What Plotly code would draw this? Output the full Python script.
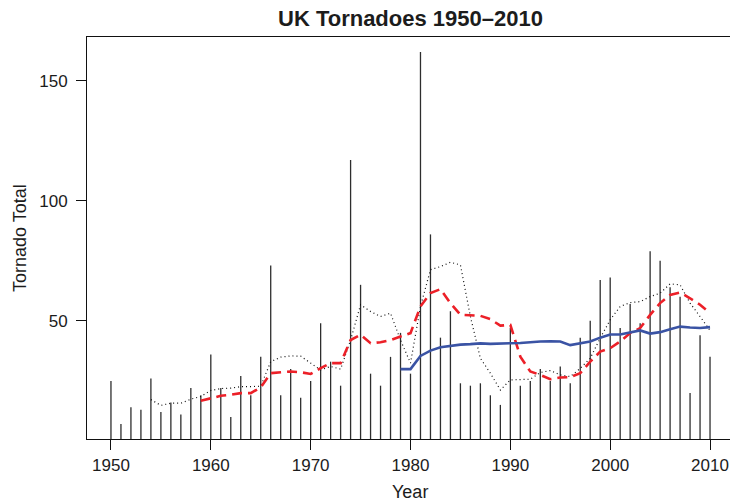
import plotly.graph_objects as go

# Annual UK tornado totals
years = list(range(1950, 2011))
totals = [25, 7, 14, 13, 26, 12, 16, 11, 22, 19,
          36, 22, 10, 27, 19, 35, 73, 19, 30, 18,
          25, 49, 33, 23, 117, 65, 28, 23, 35, 45,
          28, 162, 86, 43, 54, 24, 23, 24, 19, 15,
          47, 23, 25, 30, 25, 31, 24, 43, 50, 67,
          68, 47, 57, 49, 79, 75, 64, 60, 20, 44,
          35]

# Dotted smoother
dot_years = list(range(1954, 2011))
dot_vals = [17.2, 14.8, 15.7, 15.7, 17.4, 18.5, 21.0, 21.8, 22.0, 22.6,
            22.6, 22.8, 33.0, 34.9, 35.4, 35.3, 32.4, 29.6, 31.0, 29.9,
            42.0, 56.7, 53.9, 51.8, 53.2, 42.0, 32.4, 56.0, 71.3, 72.6,
            74.4, 73.3, 51.8, 34.4, 28.2, 21.2, 25.4, 25.4, 25.7, 28.5,
            29.3, 27.5, 26.8, 30.2, 34.4, 42.8, 50.4, 56.0, 57.6, 58.0,
            60.1, 61.5, 65.4, 65.0, 57.4, 51.8, 46.0]

# Dashed red running mean
red_years = list(range(1959, 2011))
red_vals = [16.7, 17.8, 18.8, 19.2, 19.9, 19.9, 22.3, 28.2, 28.6, 28.9,
            28.6, 27.9, 30.3, 32.4, 32.4, 42.0, 44.2, 40.7, 41.1, 42.0,
            43.5, 44.9, 56.0, 61.6, 63.2, 57.4, 52.5, 52.3, 52.1, 50.7,
            48.0, 48.3, 35.1, 28.9, 27.5, 25.7, 26.4, 26.6, 28.2, 33.0,
            37.2, 38.6, 41.4, 44.9, 47.0, 52.5, 57.4, 60.8, 61.8, 59.4,
            56.7, 53.2]

# Solid blue cumulative mean
blue_years = list(range(1979, 2011))
blue_vals = [29.9, 29.9, 35.4, 37.6, 39.0, 39.7, 40.1, 40.3, 40.6, 40.4,
             40.4, 40.7, 40.8, 41.2, 41.4, 41.5, 41.4, 39.9, 40.7, 41.4,
             43.0, 44.3, 44.3, 45.1, 46.0, 44.7, 45.3, 46.5, 47.6, 47.2,
             47.0, 47.4]

x_ticks = [1950, 1960, 1970, 1980, 1990, 2000, 2010]
y_ticks = [50, 100, 150]

FONT = "Liberation Sans, Arial, Helvetica, sans-serif"
TXT = "#1c1c1c"

# vertical spikes (R type="h")
sx, sy = [], []
for yr, v in zip(years, totals):
    sx += [yr, yr, None]
    sy += [0, v, None]

fig = go.Figure()
fig.add_trace(go.Scatter(x=sx, y=sy, mode="lines",
                         line=dict(color="#2e2e2e", width=1.3),
                         hoverinfo="skip"))
fig.add_trace(go.Scatter(x=dot_years, y=dot_vals, mode="lines",
                         line=dict(color="#111111", width=1.2, dash="1px,3px")))
fig.add_trace(go.Scatter(x=red_years, y=red_vals, mode="lines",
                         line=dict(color="#ec2028", width=2.6, dash="10px,6px")))
fig.add_trace(go.Scatter(x=blue_years, y=blue_vals, mode="lines",
                         line=dict(color="#3a53a4", width=2.6)))

fig.update_layout(
    width=730, height=502,
    margin=dict(l=87, r=0, t=37, b=63),
    paper_bgcolor="white", plot_bgcolor="white",
    showlegend=False,
    font=dict(family=FONT, size=17, color=TXT),
    xaxis=dict(range=[1947.6, 2012.0], tickvals=x_ticks,
               ticktext=[str(t) for t in x_ticks],
               ticks="outside", ticklen=10, tickwidth=1, tickcolor="#111",
               showline=True, mirror=True, linecolor="#111", linewidth=1,
               showgrid=False, zeroline=False,
               tickfont=dict(size=17, color=TXT), ticklabelstandoff=1),
    yaxis=dict(range=[0.8, 168.2], tickvals=y_ticks,
               ticktext=[str(t) for t in y_ticks],
               ticks="outside", ticklen=10, tickwidth=1, tickcolor="#111",
               showline=True, mirror=False, linecolor="#111", linewidth=1,
               showgrid=False, zeroline=False,
               tickfont=dict(size=17, color=TXT), ticklabelstandoff=5),
    annotations=[
        dict(text="<b>UK Tornadoes 1950\u20132010</b>", xref="paper", yref="paper",
             x=0.503, y=1.047, showarrow=False, font=dict(size=22, color=TXT),
             xanchor="center", yanchor="middle"),
        dict(text="Year", xref="paper", yref="paper",
             x=0.503, y=-0.131, showarrow=False, font=dict(size=18, color=TXT),
             xanchor="center", yanchor="middle"),
        dict(text="Tornado Total", xref="paper", yref="paper",
             x=-0.1042, y=0.5, showarrow=False, textangle=-90,
             font=dict(size=18, color=TXT), xanchor="center", yanchor="middle"),
    ],
)

fig.write_html("out.html")
